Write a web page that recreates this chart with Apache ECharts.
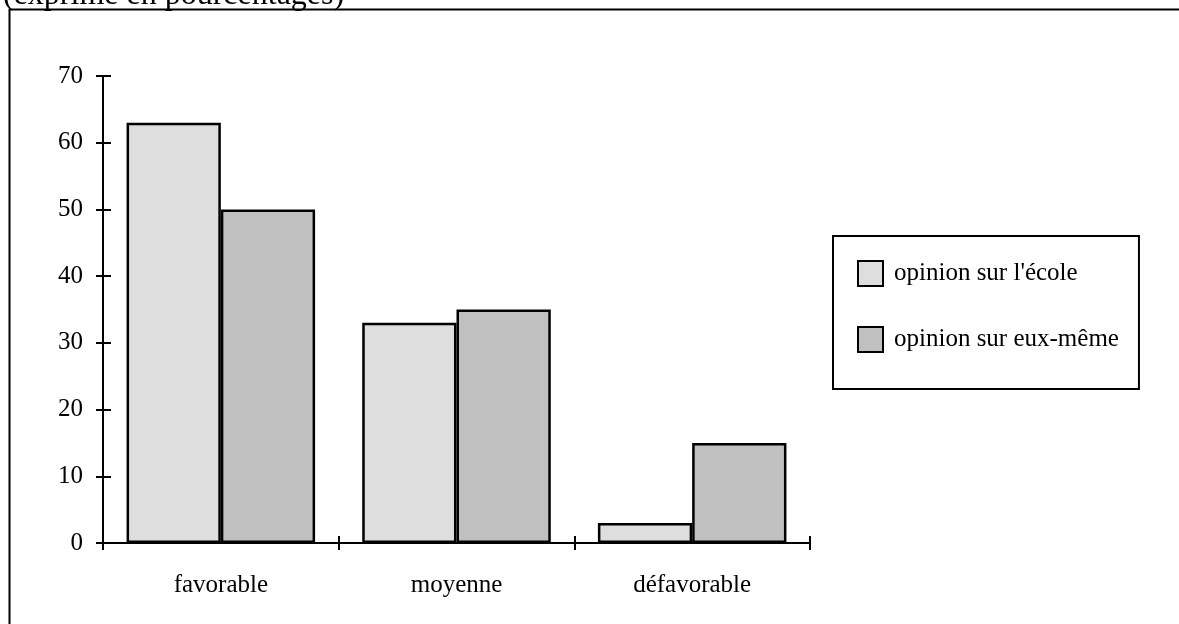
<!DOCTYPE html>
<html>
<head>
<meta charset="utf-8">
<script src="https://cdn.jsdelivr.net/npm/echarts@6/dist/echarts.min.js"></script>
<style>html,body{margin:0;padding:0;background:#fff}#c{width:1179px;height:624px}</style>
</head>
<body>
<div id="c"></div>
<script>
var categories = ['favorable', 'moyenne', 'défavorable'];
var seriesNames = ["opinion sur l'école", 'opinion sur eux-même'];
var ecoleValues = [63, 33, 3];
var euxMemeValues = [50, 35, 15];
var yTicks = [0, 10, 20, 30, 40, 50, 60, 70];
var titleText = '(exprimé en pourcentages)';

var FONT = '"Liberation Serif", "DejaVu Serif", serif';
var chart = echarts.init(document.getElementById('c'), null, {renderer: 'canvas'});
var yMin = yTicks[0], yMax = yTicks[yTicks.length - 1], yStep = yTicks[1] - yTicks[0];
var grid = {left: 103, top: 76, right: 369, bottom: 81};

function yAx(inside, show) {
  return {
    type: 'value', position: 'left', min: yMin, max: yMax, interval: yStep,
    axisLine: {show: true, lineStyle: {color: '#000', width: 2}},
    axisTick: {show: true, inside: inside, length: inside ? 8 : 7, lineStyle: {color: '#000', width: 2}},
    axisLabel: {show: show, color: '#000', fontFamily: FONT, fontSize: 25, margin: 20},
    splitLine: {show: false}
  };
}
function xAx(inside, show) {
  return {
    type: 'category', data: categories, position: 'bottom',
    axisLine: {show: true, onZero: false, lineStyle: {color: '#000', width: 2}},
    axisTick: {show: true, inside: inside, length: 7, lineStyle: {color: '#000', width: 2}},
    axisLabel: {show: show, color: '#000', fontFamily: FONT, fontSize: 25, margin: 30}
  };
}

chart.setOption({
  animation: false,
  backgroundColor: '#fff',
  title: {
    text: titleText, left: -2, top: -25,
    textStyle: {fontFamily: FONT, fontSize: 32, fontWeight: 'normal', color: '#000'}
  },
  graphic: [{
    type: 'rect', left: 7, top: 7,
    shape: {width: 1200, height: 700},
    style: {fill: 'none', stroke: '#000', lineWidth: 2}, z: -1
  }],
  grid: grid,
  xAxis: [xAx(false, true), xAx(true, false)],
  yAxis: [yAx(false, true), yAx(true, false)],
  legend: {
    orient: 'vertical', left: 833, top: 236,
    padding: [24, 20, 36, 24],
    itemWidth: 25, itemHeight: 25, itemGap: 39,
    borderColor: '#000', borderWidth: 2, backgroundColor: '#fff',
    icon: 'rect',
    textStyle: {fontFamily: FONT, fontSize: 25, color: '#000', padding: [0, 0, 0, 6]},
    data: seriesNames
  },
  series: [
    {name: seriesNames[0], type: 'bar', data: ecoleValues, barWidth: '40%', barGap: '0%',
     itemStyle: {color: '#dedede', borderColor: '#000', borderWidth: 2.5}},
    {name: seriesNames[1], type: 'bar', data: euxMemeValues, barWidth: '40%', barGap: '0%',
     itemStyle: {color: '#c0c0c0', borderColor: '#000', borderWidth: 2.5}}
  ]
});
</script>
</body>
</html>
